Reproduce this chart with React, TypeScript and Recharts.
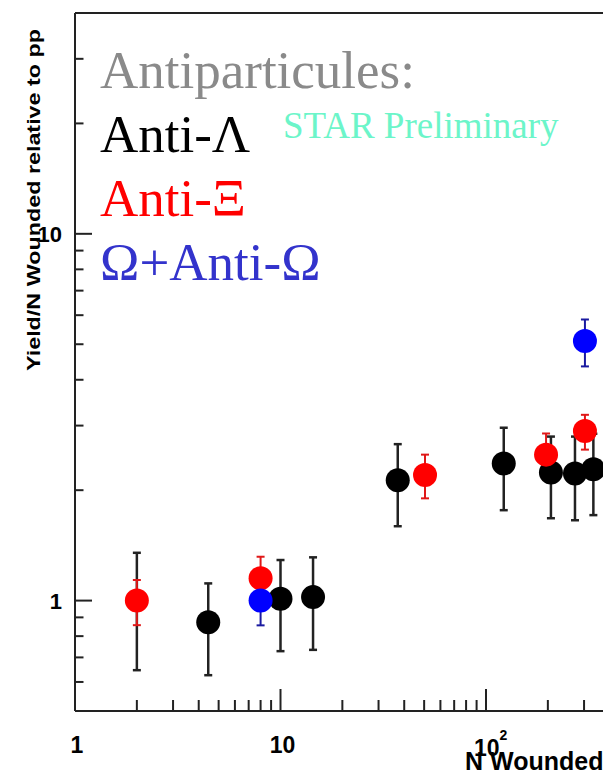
import React from 'react';
import { ScatterChart, Scatter, XAxis, YAxis, ErrorBar, ReferenceLine, Label } from 'recharts';

// ---- data ----
const blackX = [4.45, 10, 14.4, 37.2, 122, 207, 271, 333];
const blackY = [0.873, 1.011, 1.022, 2.13, 2.365, 2.235, 2.22, 2.28];
const blackHi = [1.114, 1.29, 1.312, 2.67, 2.96, 2.8, 2.8, 2.85];
const blackLo = [0.626, 0.728, 0.734, 1.595, 1.764, 1.677, 1.656, 1.71];

const redX = [2, 8, 50.5, 196, 303];
const redY = [1.0, 1.15, 2.2, 2.5, 2.9];
const redHi = [1.138, 1.317, 2.5, 2.855, 3.21];
const redLo = [0.857, 1.0, 1.9, 2.14, 2.58];

const redSystX = [2];
const redSystY = [1.0];
const redSystHi = [1.35];
const redSystLo = [0.646];

const blueX = [8, 303];
const blueY = [1.0, 5.1];
const blueHi = [1.135, 5.84];
const blueLo = [0.856, 4.35];

const xTicks = [1, 2, 3, 4, 5, 6, 7, 8, 9, 10, 20, 30, 40, 50, 60, 70, 80, 90, 100, 200, 300, 400, 500, 600, 700, 800, 900, 1000];
const xMajor = [1, 10, 100, 1000];
const yTicks = [0.6, 0.7, 0.8, 0.9, 1, 2, 3, 4, 5, 6, 7, 8, 9, 10, 20, 30];
const yMajor = [1, 10];
const yTickLabels: Record<number, string> = { 1: '1', 10: '10' };

const legendLines = [
  { text: 'Antiparticules:', color: '#8a8a8a' },
  { text: 'Anti-Λ', color: '#000000' },
  { text: 'Anti-Ξ', color: '#ff0000' },
  { text: 'Ω+Anti-Ω', color: '#3333cc' },
];
const starLabel = 'STAR Preliminary';
const xTitle = 'N Wounded';
const yTitle = 'Yield/N Wounded relative to pp';

const rows = (xs: number[], ys: number[], lo: number[], hi: number[]) =>
  xs.map((x, i) => ({ x, y: ys[i], err: [ys[i] - lo[i], hi[i] - ys[i]] }));

const blackData = rows(blackX, blackY, blackLo, blackHi);
const redData = rows(redX, redY, redLo, redHi);
const redSystData = rows(redSystX, redSystY, redSystLo, redSystHi);
const blueData = rows(blueX, blueY, blueLo, blueHi);

const SANS = '"Liberation Sans", Arial, Helvetica, sans-serif';
const SERIF = '"Liberation Serif", "Times New Roman", serif';
const AXIS = '#222';

const XTick = (props: any) => {
  const { x, y, payload } = props;
  const v = payload.value;
  const major = xMajor.includes(v);
  let label: React.ReactNode = null;
  if (v === 1 || v === 10) {
    label = (
      <text x={x + 2} y={y + 42} textAnchor="middle" fontFamily={SANS} fontWeight="bold" fontSize={23} fill="#000">
        {String(v)}
      </text>
    );
  } else if (v === 100) {
    label = (
      <text x={x - 12} y={y + 45} textAnchor="start" fontFamily={SANS} fontWeight="bold" fontSize={23} fill="#000">
        10
        <tspan fontSize={14} dy={-16}>2</tspan>
      </text>
    );
  }
  return (
    <g>
      <line x1={x} x2={x} y1={y} y2={y - (major ? 22 : 11)} stroke={AXIS} strokeWidth={2} />
      {label}
    </g>
  );
};

const YTick = (props: any) => {
  const { x, y, payload } = props;
  const v = payload.value;
  const major = yMajor.includes(v);
  const lbl = yTickLabels[v];
  return (
    <g>
      <line x1={x} x2={x + (major ? 17 : 8.5)} y1={y} y2={y} stroke={AXIS} strokeWidth={2} />
      {lbl ? (
        <text x={x - 13} y={y + 8} textAnchor="end" fontFamily={SANS} fontWeight="bold" fontSize={22} fill="#000">
          {lbl}
        </text>
      ) : null}
    </g>
  );
};

const dot = (color: string) => (p: any) => <circle cx={p.cx} cy={p.cy} r={12} fill={color} />;
const noDot = () => <g />;

export default function App() {
  return (
    <div style={{ position: 'absolute', left: 0, top: 0, width: 603, height: 774, overflow: 'hidden', background: '#fff' }}>
      <ScatterChart width={700} height={774} margin={{ top: 13, right: 8.5, bottom: 0, left: 0 }}>
        <XAxis
          type="number"
          dataKey="x"
          scale="log"
          domain={[1, 1000]}
          allowDataOverflow
          ticks={xTicks}
          interval={0}
          tickSize={0}
          tickMargin={0}
          tickLine={false}
          tick={<XTick />}
          height={63}
          axisLine={{ stroke: AXIS, strokeWidth: 2 }}
        >
          <Label
            content={(p: any) => {
              const vb = p.viewBox;
              return (
                <text x={vb.x + 390} y={vb.y + 59} fontFamily={SANS} fontWeight="bold" fontSize={25} fill="#000">
                  {xTitle}
                </text>
              );
            }}
          />
        </XAxis>
        <YAxis
          type="number"
          dataKey="y"
          scale="log"
          domain={[0.5, 40]}
          allowDataOverflow
          ticks={yTicks}
          interval={0}
          tickSize={0}
          tickMargin={0}
          tickLine={false}
          tick={<YTick />}
          width={75}
          axisLine={{ stroke: AXIS, strokeWidth: 2 }}
        >
          <Label
            content={(p: any) => {
              const vb = p.viewBox;
              const cx = vb.x + 40;
              const cy = 200;
              return (
                <text
                  x={cx}
                  y={cy}
                  transform={`rotate(-90, ${cx}, ${cy})`}
                  textAnchor="middle"
                  fontFamily={SANS}
                  fontWeight="bold"
                  fontSize={19}
                  textLength={342}
                  lengthAdjust="spacingAndGlyphs"
                  fill="#000"
                >
                  {yTitle}
                </text>
              );
            }}
          />
        </YAxis>
        <ReferenceLine y={40} stroke={AXIS} strokeWidth={2} ifOverflow="extendDomain" />
        <Scatter data={blackData} shape={dot('#000000')} isAnimationActive={false}>
          <ErrorBar dataKey="err" direction="y" width={4} stroke="#222" strokeWidth={2.5} isAnimationActive={false} />
        </Scatter>
        <Scatter data={redSystData} shape={noDot} isAnimationActive={false}>
          <ErrorBar dataKey="err" direction="y" width={4} stroke="#222" strokeWidth={2.5} isAnimationActive={false} />
        </Scatter>
        <Scatter data={redData} shape={dot('#ff0000')} isAnimationActive={false}>
          <ErrorBar dataKey="err" direction="y" width={4} stroke="#e01818" strokeWidth={2} isAnimationActive={false} />
        </Scatter>
        <Scatter data={blueData} shape={dot('#0000ff')} isAnimationActive={false}>
          <ErrorBar dataKey="err" direction="y" width={4} stroke="#1a1aa0" strokeWidth={2} isAnimationActive={false} />
        </Scatter>
      </ScatterChart>
      <svg width={603} height={774} style={{ position: 'absolute', left: 0, top: 0, pointerEvents: 'none' }}>
        {legendLines.map((l, i) => (
          <text key={l.text} x={100} y={88 + i * 64} fontFamily={SERIF} fontSize={53} fill={l.color}>
            {l.text}
          </text>
        ))}
        <text x={283} y={138} fontFamily={SERIF} fontSize={37} fill="#6cf5c9">
          {starLabel}
        </text>
      </svg>
    </div>
  );
}
